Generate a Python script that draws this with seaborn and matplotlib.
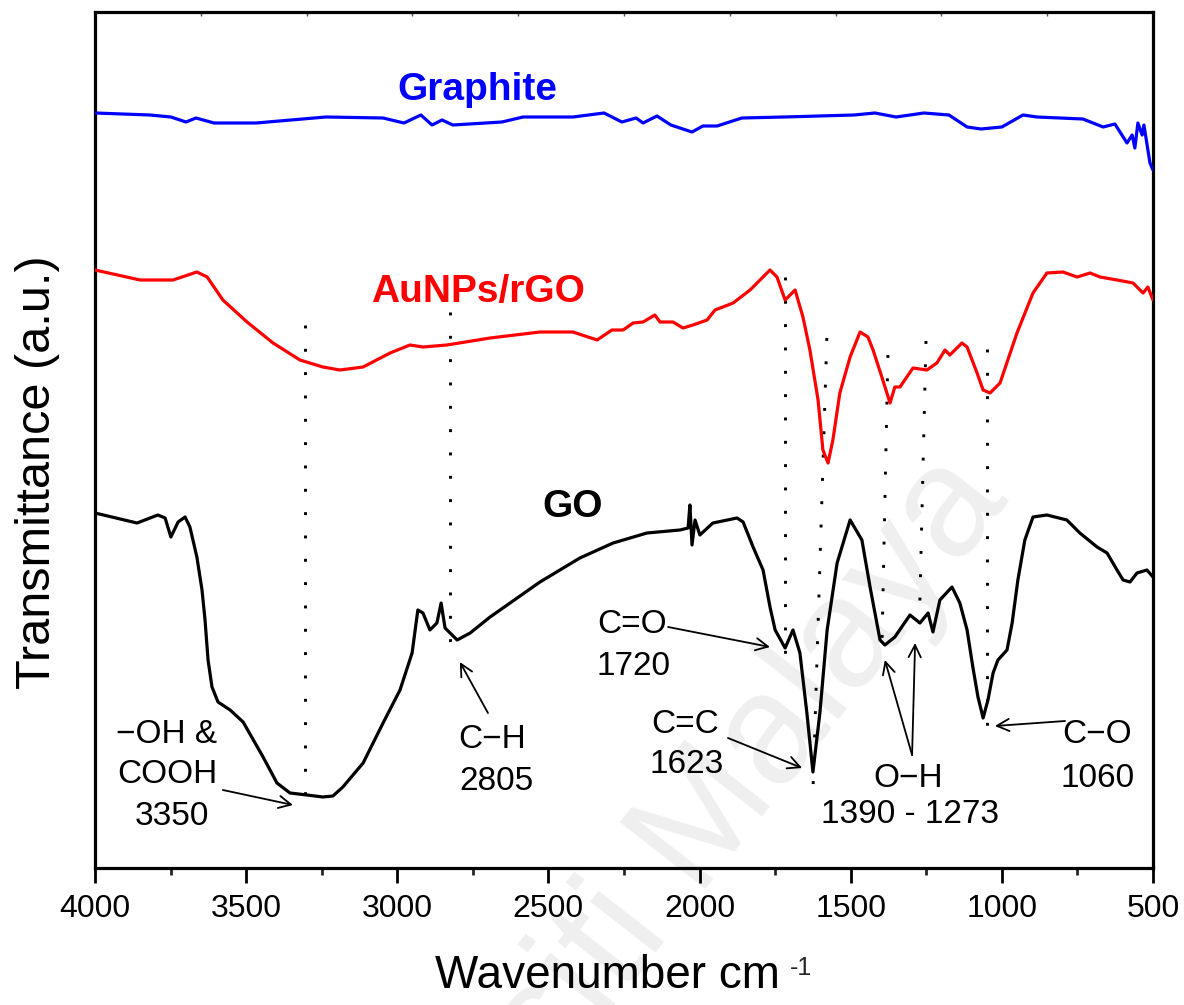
import numpy as np
import pandas as pd
import matplotlib
matplotlib.use("Agg")
import matplotlib.pyplot as plt
from matplotlib.ticker import MultipleLocator
import seaborn as sns

# ---------------- data ----------------
graphite_wn = [4000, 3818, 3749, 3699, 3666, 3606, 3467, 3352, 3236, 3047, 2978, 2922, 2885,
               2852, 2816, 2654, 2584, 2419, 2316, 2257, 2210, 2187, 2141, 2095, 2025, 1989,
               1942, 1860, 1721, 1489, 1420, 1350, 1258, 1175, 1115, 1069, 1000, 930, 884,
               732, 665, 626, 586, 569, 560, 550, 536, 530, 510, 500]
graphite_t = [755, 753, 751, 746, 750, 745, 745, 748, 751, 750, 745, 753, 743,
              748, 743, 746, 751, 751, 755, 746, 750, 745, 752, 743, 736, 742,
              742, 750, 751, 753, 755, 751, 755, 753, 741, 739, 741, 753, 751,
              749, 741, 744, 725, 733, 720, 745, 733, 743, 705, 698]

rgo_wn = [4000, 3851, 3742, 3663, 3629, 3577, 3497, 3411, 3322, 3246, 3190, 3113, 3024, 2958,
          2915, 2836, 2693, 2528, 2419, 2379, 2339, 2290, 2253, 2220, 2187, 2148, 2131, 2088,
          2055, 2022, 1975, 1949, 1923, 1889, 1833, 1767, 1744, 1717, 1684, 1658, 1635, 1608,
          1592, 1575, 1559, 1536, 1502, 1469, 1443, 1426, 1397, 1370, 1354, 1337, 1294, 1248,
          1215, 1188, 1172, 1132, 1115, 1082, 1062, 1039, 1006, 950, 897, 851, 798, 751, 708,
          675, 619, 566, 533, 517, 500]
rgo_t = [598, 588, 588, 596, 591, 568, 546, 525, 508, 501, 498, 501, 515, 523,
         521, 523, 530, 536, 536, 532, 528, 538, 538, 545, 546, 553, 546, 546,
         540, 543, 548, 558, 561, 565, 578, 598, 591, 568, 578, 551, 518, 468,
         418, 405, 428, 475, 511, 536, 531, 518, 491, 465, 481, 481, 500, 498,
         505, 518, 513, 525, 521, 495, 478, 475, 485, 535, 575, 595, 596, 591, 595,
         591, 588, 585, 575, 581, 568]

go_wn = [4000, 3861, 3792, 3768, 3749, 3725, 3702, 3686, 3663, 3646, 3636, 3626, 3613, 3593,
         3553, 3510, 3444, 3398, 3355, 3299, 3246, 3213, 3180, 3113, 3047, 2991, 2951, 2932,
         2915, 2892, 2869, 2855, 2842, 2802, 2759, 2693, 2528, 2396, 2286, 2174, 2065, 2038,
         2032, 2025, 2015, 1999, 1956, 1876, 1856, 1823, 1790, 1767, 1750, 1717, 1691, 1668,
         1645, 1625, 1602, 1578, 1545, 1502, 1463, 1436, 1403, 1387, 1354, 1304, 1271, 1244,
         1228, 1205, 1165, 1139, 1115, 1096, 1079, 1062, 1046, 1029, 1013, 983, 966, 947, 924,
         897, 851, 785, 742, 685, 652, 619, 599, 576, 553, 520, 500]
go_t = [355, 345, 353, 350, 331, 346, 351, 341, 311, 278, 248, 208, 181, 166,
        158, 146, 111, 85, 75, 73, 71, 72, 81, 105, 145, 178, 215, 258,
        255, 238, 245, 265, 240, 228, 235, 251, 286, 310, 325, 335, 338, 340,
        363, 323, 348, 333, 345, 350, 346, 321, 298, 261, 238, 220, 238, 215,
        155, 96, 155, 238, 305, 348, 328, 281, 228, 223, 231, 253, 245, 255,
        236, 268, 281, 265, 238, 201, 171, 150, 168, 195, 208, 218, 245, 288, 328,
        351, 353, 348, 335, 321, 315, 298, 288, 286, 295, 298, 291]

samples = ["Graphite", "AuNPs/rGO", "GO"]
colors = {"Graphite": "#0000ff", "AuNPs/rGO": "#ff0000", "GO": "#000000"}

# dotted guide lines: (top wavenumber, top t) -> (bottom wavenumber, bottom t)
guide_top_wn = [3305, 2826, 1717, 1579, 1377, 1251, 1049]
guide_top_t = [543, 556, 591, 530, 513, 527, 519]
guide_bot_wn = [3305, 2826, 1717, 1625, 1397, 1274, 1049]
guide_bot_t = [60, 215, 205, 76, 218, 231, 133]

xticks = [4000, 3500, 3000, 2500, 2000, 1500, 1000, 500]

# ---------------- figure ----------------
sns.set_theme(style="white")
plt.rcParams["font.family"] = ["Liberation Sans", "DejaVu Sans"]

df = pd.concat([
    pd.DataFrame({"wavenumber": graphite_wn, "t": graphite_t, "sample": "Graphite"}),
    pd.DataFrame({"wavenumber": rgo_wn, "t": rgo_t, "sample": "AuNPs/rGO"}),
    pd.DataFrame({"wavenumber": go_wn, "t": go_t, "sample": "GO"}),
], ignore_index=True)

fig = plt.figure(figsize=(11.84, 10.05), dpi=100)
fig.patch.set_facecolor("white")
ax = fig.add_axes([95 / 1184, 1 - 868 / 1005, 1058 / 1184, 856 / 1005])
ax.patch.set_alpha(0)

# faint watermark
fig.text(1010 / 1184, 1 - 500 / 1005, "Universiti Malaya", ha="right", va="baseline",
         rotation=52, rotation_mode="anchor", fontsize=113, color="#efefef", zorder=-1)

for s in samples:
    sns.lineplot(data=df[df["sample"] == s], x="wavenumber", y="t", color=colors[s],
                 sort=False, estimator=None, lw=2.3, ax=ax, legend=False, zorder=3)

for wt, tt, wb, tb in zip(guide_top_wn, guide_top_t, guide_bot_wn, guide_bot_t):
    ax.plot([wt, wb], [tt, tb], ls=(0, (1, 7)), lw=2.1, color="black",
            dash_capstyle="butt", zorder=2)

ax.set_xlim(4000, 500)
ax.set_ylim(0, 856)
ax.set_xticks(xticks)
ax.xaxis.set_minor_locator(MultipleLocator(250))
ax.set_yticks([])
ax.tick_params(axis="x", which="major", direction="out", length=11, width=2,
               labelsize=23, pad=8, colors="black", bottom=True)
ax.tick_params(axis="x", which="minor", direction="out", length=5, width=2, bottom=True)
for sp in ax.spines.values():
    sp.set_linewidth(2.3)
    sp.set_color("black")

sec = ax.secondary_xaxis("top")
sec.set_xticks(np.arange(4000, 499, -350))
sec.set_xticklabels([])
sec.tick_params(direction="in", length=3, width=1, colors="#555555")
sec.spines["top"].set_visible(False)

ax.set_xlabel("Wavenumber cm", fontsize=33, color="black")
ax.xaxis.set_label_coords(0.4844, -0.1000)
ax.annotate("-1", xy=(1, 1), xycoords=ax.xaxis.label, xytext=(7, -2),
            textcoords="offset points", ha="left", va="top", fontsize=18)
ax.set_ylabel("Transmittance (a.u.)", fontsize=35, color="black")
ax.yaxis.set_label_coords(-0.0331, 0.4626)

# sample labels
bold = dict(fontsize=28, fontweight="bold", ha="center", va="baseline")
ax.text(2736, 768, "Graphite", color="#0000ff", **bold)
ax.text(2733, 566, "AuNPs/rGO", color="#ff0000", **bold)
ax.text(2419, 351, "GO", color="black", **bold)

# band annotations
reg = dict(fontsize=24, ha="center", va="baseline", color="black")
ax.text(3762, 125, "\u2212OH &", **reg)
ax.text(3762, 85, "COOH", **reg)
ax.text(3745, 43, "3350", **reg)
ax.text(2687, 120, "C\u2212H", **reg)
ax.text(2673, 78, "2805", **reg)
ax.text(2224, 235, "C=O", **reg)
ax.text(2217, 193, "1720", **reg)
ax.text(2048, 135, "C=C", **reg)
ax.text(2042, 95, "1623", **reg)
ax.text(1311, 81, "O\u2212H", **reg)
ax.text(1304, 45, "1390 - 1273", **reg)
ax.text(685, 125, "C\u2212O", **reg)
ax.text(685, 81, "1060", **reg)

arrow = dict(arrowstyle="->", lw=1.3, color="black", mutation_scale=22, shrinkA=0, shrinkB=0)
for tail, tip in [((3577, 78), (3345, 63)), ((2700, 155), (2793, 206)),
                  ((2104, 241), (1767, 221)), ((1906, 130), (1661, 100)),
                  ((1297, 113), (1387, 208)), ((1297, 113), (1287, 225)),
                  ((791, 147), (1023, 142))]:
    ax.annotate("", xy=tip, xytext=tail, arrowprops=arrow)

fig.savefig("out.png", dpi=100, facecolor="white")
